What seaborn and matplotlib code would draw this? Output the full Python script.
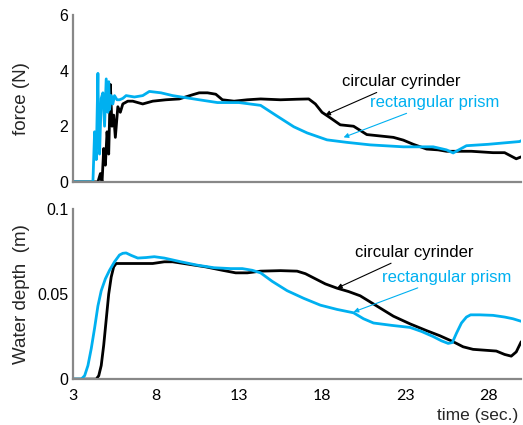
import pandas as pd
import matplotlib.pyplot as plt
import seaborn as sns

# force (N), circular cylinder
t_force_cyl = [3.0, 4.5, 4.65, 4.75, 4.85, 4.95, 5.05, 5.15, 5.25, 5.35, 5.45, 5.55, 5.7, 5.85,
               6.0, 6.3, 6.6, 7.2, 7.8, 8.6, 9.4, 10.2, 10.6, 11.1, 11.6, 12.0, 12.7, 13.5, 14.3,
               15.5, 16.5, 17.2, 17.6, 18.0, 18.5, 19.1, 19.9, 20.3, 20.7, 21.5, 22.3, 22.9,
               23.5, 24.3, 25.0, 25.5, 27.0, 28.3, 29.0, 29.7, 30.0]
f_cyl = [0.0, 0.0, 0.3, 0.0, 1.2, 0.6, 1.8, 1.0, 3.5, 2.0, 2.4, 1.6, 2.7, 2.5,
         2.8, 2.9, 2.9, 2.8, 2.9, 2.95, 2.98, 3.13, 3.2, 3.2, 3.15, 2.95, 2.9, 2.95, 2.98,
         2.95, 2.97, 2.98, 2.8, 2.5, 2.3, 2.05, 2.0, 1.85, 1.7, 1.65, 1.6, 1.5,
         1.35, 1.18, 1.15, 1.1, 1.1, 1.05, 1.05, 0.83, 0.9]

# force (N), rectangular prism
t_force_rec = [3.0, 4.2, 4.3, 4.4, 4.5, 4.55, 4.6, 4.7, 4.8, 4.9, 5.0, 5.1, 5.15, 5.2, 5.3, 5.4,
               5.5, 5.65, 5.8, 6.0, 6.2, 6.7, 7.2, 7.6, 8.3, 9.0, 10.6, 11.7, 13.0, 14.3,
               15.2, 16.3, 17.1, 18.3, 19.5, 20.9, 22.9, 24.7, 25.5, 25.9, 26.7, 28.0, 29.9, 30.0]
f_rec = [0.0, 0.0, 1.8, 0.8, 3.9, 1.5, 1.0, 3.0, 3.2, 2.0, 3.7, 2.5, 3.6, 2.6, 3.1, 2.8,
         3.1, 2.95, 2.95, 3.0, 3.1, 3.05, 3.1, 3.25, 3.2, 3.1, 2.95, 2.85, 2.85, 2.75,
         2.4, 1.98, 1.76, 1.51, 1.42, 1.33, 1.26, 1.26, 1.15, 1.04, 1.3, 1.35, 1.45, 1.48]

# water depth (m), circular cylinder
t_depth_cyl = [3.0, 4.4, 4.55, 4.7, 4.85, 5.0, 5.15, 5.3, 5.45, 5.6, 6.0, 7.0, 7.8, 8.5, 9.0,
               10.0, 11.0, 12.0, 12.8, 13.5, 14.3, 15.5, 16.5, 17.0, 17.5, 18.2, 18.9, 19.6,
               20.3, 21.3, 22.3, 23.3, 24.3, 25.1, 25.9, 26.5, 27.1, 27.8, 28.5, 29.0, 29.4,
               29.7, 30.0]
d_cyl = [0.0, 0.0, 0.002, 0.008, 0.02, 0.035, 0.05, 0.06, 0.066, 0.068, 0.068, 0.068, 0.068,
         0.069, 0.069, 0.0675, 0.066, 0.064, 0.0625, 0.0625, 0.0635, 0.0638, 0.0635, 0.062,
         0.0595, 0.056, 0.0535, 0.0515, 0.049, 0.043, 0.037, 0.0325, 0.0285, 0.0255, 0.022,
         0.019, 0.0175, 0.017, 0.0165, 0.0145, 0.0135, 0.016, 0.022]

# water depth (m), rectangular prism
t_depth_rec = [3.0, 3.5, 3.7, 3.9, 4.1, 4.3, 4.5, 4.7, 4.95, 5.2, 5.5, 5.8, 6.0, 6.2, 6.5,
               6.9, 7.4, 7.9, 8.5, 9.5, 10.5, 11.5, 12.5, 13.2, 13.8, 14.3, 15.0, 15.9, 16.9,
               17.9, 18.9, 19.9, 20.5, 21.1, 22.2, 23.3, 24.0, 24.7, 25.2, 25.6, 25.85, 26.1,
               26.4, 26.7, 26.95, 27.5, 28.3, 29.0, 29.5, 30.0]
d_rec = [0.0, 0.0, 0.002, 0.008, 0.018, 0.03, 0.043, 0.052, 0.059, 0.064, 0.069, 0.073, 0.074,
         0.0742, 0.0728, 0.0712, 0.0715, 0.072, 0.0712, 0.069, 0.067, 0.0655, 0.065, 0.065,
         0.064, 0.0625, 0.0575, 0.052, 0.0475, 0.0435, 0.041, 0.039, 0.0355, 0.033, 0.0316,
         0.0304, 0.028, 0.025, 0.0225, 0.021, 0.0215, 0.027, 0.033, 0.0365, 0.0378, 0.0378,
         0.0375, 0.0365, 0.0355, 0.034]

xticks = [3, 8, 13, 18, 23, 28]
black = "#000000"
blue = "#00B0F0"
gray = "#888888"

sns.set_theme(style="white")
plt.rcParams['font.family'] = ['Liberation Sans', 'DejaVu Sans']

fig = plt.figure(figsize=(5.23, 4.25), dpi=100)
ax1 = fig.add_axes([0.1396, 0.572, 0.857, 0.393])
ax2 = fig.add_axes([0.1396, 0.108, 0.857, 0.400])

df_f = pd.concat([
    pd.DataFrame({"t": t_force_cyl, "v": f_cyl, "s": "cyl"}),
    pd.DataFrame({"t": t_force_rec, "v": f_rec, "s": "rec"}),
])
df_d = pd.concat([
    pd.DataFrame({"t": t_depth_cyl, "v": d_cyl, "s": "cyl"}),
    pd.DataFrame({"t": t_depth_rec, "v": d_rec, "s": "rec"}),
])

for ax, df in [(ax1, df_f), (ax2, df_d)]:
    sns.lineplot(data=df, x="t", y="v", hue="s", hue_order=["cyl", "rec"],
                 palette=[black, blue], estimator=None, sort=False, lw=2.0,
                 legend=False, ax=ax)
    for ln in ax.lines:
        ln.set_solid_joinstyle("round")
    ax.set_xlim(3, 30)
    ax.set_xticks(xticks)
    for side in ["top", "right"]:
        ax.spines[side].set_visible(False)
    for side in ["left", "bottom"]:
        ax.spines[side].set_color(gray)
        ax.spines[side].set_linewidth(1.6)
    ax.tick_params(direction="in", length=4, width=1, color=gray, labelsize=11.5, colors="black")
    ax.set_xlabel("")

ax1.set_ylim(0, 6)
ax1.set_yticks([0, 2, 4, 6])
ax1.set_xticklabels([])
ax1.set_ylabel("force (N)", fontsize=13.5)

ax2.set_ylim(0, 0.1)
ax2.set_yticks([0, 0.05, 0.1])
ax2.set_yticklabels(["0", "0.05", "0.1"])
ax2.set_xticklabels([str(x) for x in xticks], fontsize=11.5, family=["Lato", "DejaVu Sans"])
ax2.tick_params(axis="x", pad=7)
ax2.set_ylabel("Water depth  (m)", fontsize=13.5)
ax1.yaxis.set_label_coords(-0.095, 0.5)
ax2.yaxis.set_label_coords(-0.095, 0.5)
fig.text(0.99, 0.004, "time (sec.)", ha="right", va="bottom", fontsize=12.5)

# annotations
arrow_k = dict(arrowstyle="-|>", color=black, lw=0.8, shrinkA=0, shrinkB=0, mutation_scale=7)
arrow_b = dict(arrowstyle="-|>", color=blue, lw=0.8, shrinkA=0, shrinkB=0, mutation_scale=7)
ax1.annotate("circular cyrinder", xy=(18.2, 2.4), xytext=(19.2, 3.6), fontsize=12, color=black,
             arrowprops=arrow_k, ha="left", va="center")
ax1.annotate("rectangular prism", xy=(19.3, 1.6), xytext=(20.9, 2.85), fontsize=12, color=blue,
             arrowprops=arrow_b, ha="left", va="center")
ax2.annotate("circular cyrinder", xy=(18.9, 0.0535), xytext=(20.0, 0.0745), fontsize=12, color=black,
             arrowprops=arrow_k, ha="left", va="center")
ax2.annotate("rectangular prism", xy=(19.9, 0.0395), xytext=(21.6, 0.060), fontsize=12, color=blue,
             arrowprops=arrow_b, ha="left", va="center")

fig.savefig("out.png", dpi=100)
